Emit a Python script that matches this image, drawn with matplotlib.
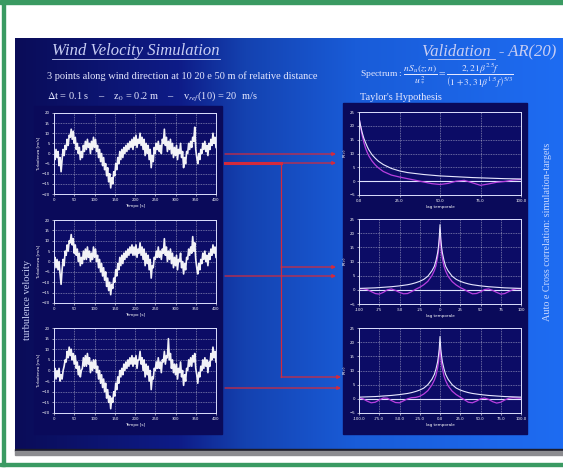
import numpy as np
import matplotlib
matplotlib.use("Agg")
import matplotlib.pyplot as plt
from matplotlib.patches import Rectangle
from matplotlib.colors import LinearSegmentedColormap

plt.rcParams['mathtext.fontset'] = 'stix'

W, H = 563, 470

# turbulence velocity [m/s] at the 3 points, one reading every 2.5 s (0..400 s)
turb_1 = [
    0, -3, 2, -2, 1, -6, -2, -9, -3, 2, -1, 4, 2, 7, 4, 9, 8, 12, 7, 11,
    5, 8, 2, 5, 0, 3, -3, 1, -2, 4, 1, 6, 2, 7, 3, 5, 0, 6, 2, 8,
    3, 7, 1, 4, -2, 2, -4, 0, -6, -2, -8, -5, -11, -7, -14, -10, -17, -12, -15, -9,
    -11, -5, -8, -2, -5, 1, -3, 2, -2, 3, 0, 4, 1, 5, 2, 6, 3, 7, 2, 8,
    4, 9, 3, 7, 5, 10, 4, 8, 2, 7, -1, 5, 0, 4, -3, 2, -7, -1, -4, 3,
    0, 5, 2, 6, 1, 4, 0, 7, 5, 12, 4, 8, 1, 6, 2, 7, 0, 5, -2, 3,
    -1, 4, -3, 2, 0, 5, -2, 1, -7, -2, -5, 1, 0, 5, 2, 6, 3, 8, 6, 13,
    2, -2, -5, 0, -3, 2, 0, 5, 2, 6, 1, 4, -1, 5, 2, 7, 4, 10, 5, 8,
    3]
turb_2 = [
    -1, 2, -3, 1, -4, 0, -6, -11, -4, 1, -2, 5, 3, 8, 5, 10, 9, 13, 8, 11,
    4, 8, 3, 6, 0, 4, -2, 2, -1, 5, 1, 6, 1, 7, 2, 5, 0, 4, 1, 7,
    2, 6, 0, 3, -3, 1, -5, -1, -7, -3, -9, -5, -12, -8, -14, -10, -16, -11, -13, -8,
    -10, -4, -7, -1, -4, 2, -2, 3, -1, 4, 1, 5, 2, 6, 3, 7, 4, 8, 3, 7,
    3, 8, 2, 6, 4, 9, 3, 7, 1, 6, -2, 4, -1, 3, -4, 1, -8, -2, -3, 2,
    1, 5, 2, 7, 2, 5, 1, 6, 4, 11, 3, 7, 0, 5, 1, 6, -1, 4, -3, 2,
    -2, 3, -4, 1, 0, 4, -3, 0, -6, -1, -4, 2, 1, 6, 3, 7, 4, 12, 5, 9,
    1, -3, -6, -1, -4, 1, -1, 4, 1, 5, 0, 3, -2, 4, 1, 6, 3, 8, 4, 7,
    2]
turb_3 = [
    -2, 1, -4, 0, -3, 1, -5, -2, -4, 0, 2, 5, 4, 9, 6, 11, 7, 10, 5, 8,
    3, 7, 1, 4, -2, 2, -3, 0, 1, 6, 2, 7, 2, 8, 3, 6, -1, 4, 0, 5,
    1, 5, -1, 2, -4, 0, -6, -2, -8, -4, -10, -6, -13, -9, -15, -12, -18, -13, -15, -10,
    -12, -6, -9, -3, -6, 0, -3, 1, -2, 3, 0, 4, 1, 5, 2, 6, 3, 7, 2, 6,
    3, 7, 1, 5, 5, 9, 3, 6, 0, 5, -3, 3, -2, 2, -5, 0, -9, -3, -4, 1,
    0, 4, 1, 6, 1, 4, -1, 5, 4, 9, 3, 7, 6, 15, 5, 8, 1, 5, -1, 3,
    -2, 3, -4, 1, -1, 4, -3, 0, -7, -2, -5, 1, 0, 5, 2, 6, 2, 7, 4, 8,
    1, -2, -6, -1, -3, 2, 0, 5, 1, 6, 2, 5, -1, 4, 2, 8, 5, 11, 6, 9,
    4]
t_sec = np.linspace(0, 400, len(turb_1))

# auto-correlation (lag 0..100)
auto_lag_target = [0, 1, 2, 3, 4, 5, 6, 8, 10, 12, 15, 20, 25, 30, 40, 50, 60, 70, 80, 90, 100]
auto_target = [23, 20, 17.5, 15.5, 14, 12.6, 11.4, 9.6, 8.3, 7.2, 6.0, 4.6, 3.7, 3.1, 2.4,
               1.9, 1.6, 1.3, 1.1, 0.9, 0.8]
auto_lag_sim = [0, 1, 2, 3, 4, 5, 6, 8, 10, 12, 15, 20, 25, 30, 35, 40, 45, 50, 55, 60,
                65, 70, 75, 80, 85, 90, 95, 100]
auto_sim = [23, 19.5, 16.5, 14, 12, 10.5, 9.2, 7.3, 5.9, 4.8, 3.5, 2.2, 1.5, 0.9, 0.3, -0.3,
            -0.9, -1.2, -0.8, 0.0, 0.3, -0.6, -1.5, -1.0, -0.4, -0.1, 0.4, 0.6]

# cross-correlations (lag -100..100)
cross_lag = [-100, -95, -90, -85, -80, -75, -70, -65, -60, -55, -50, -45, -40, -35, -30, -25,
             -20, -15, -10, -7, -5, -3, -2, -1, 0, 1, 2, 3, 5, 7, 10, 15, 20, 25, 30, 35,
             40, 45, 50, 55, 60, 65, 70, 75, 80, 85, 90, 95, 100]
cross_a_target = [0.5, 0.55, 0.6, 0.65, 0.7, 0.8, 0.9, 1.0, 1.1, 1.25, 1.4, 1.6, 1.8, 2.1, 2.5,
                  3.0, 3.7, 4.8, 6.7, 8.3, 10.3, 13, 15, 18, 23, 18, 15, 13, 10.3, 8.3, 6.7,
                  4.8, 3.7, 3.0, 2.5, 2.1, 1.8, 1.6, 1.4, 1.25, 1.1, 1.0, 0.9, 0.8, 0.7,
                  0.65, 0.6, 0.55, 0.5]
cross_a_sim = [0.3, 0.4, 0.1, -0.6, -1.3, -1.5, -0.9, 0.0, 0.3, -0.2, -0.9, -1.4, -1.3, -0.6,
               0.2, 0.9, 1.8, 3.0, 5.0, 6.8, 8.5, 11.5, 13.5, 16.5, 21.5, 16, 13, 11, 8.3,
               6.6, 4.8, 2.9, 1.7, 0.8, 0.1, -0.7, -1.4, -1.3, -0.7, 0.1, 0.3, -0.2, -0.9,
               -1.5, -1.3, -0.6, 0.1, 0.4, 0.3]
cross_b_target = [0.6, 0.65, 0.7, 0.75, 0.8, 0.9, 1.0, 1.1, 1.2, 1.35, 1.5, 1.7, 1.9, 2.2, 2.6,
                  3.1, 3.8, 5.0, 6.9, 8.6, 10.5, 13, 15, 17.5, 22, 17.5, 15, 13, 10.5, 8.6,
                  6.9, 5.0, 3.8, 3.1, 2.6, 2.2, 1.9, 1.7, 1.5, 1.35, 1.2, 1.1, 1.0, 0.9, 0.8,
                  0.75, 0.7, 0.65, 0.6]
cross_b_sim = [0.4, 0.0, -0.8, -1.4, -1.2, -0.4, 0.3, 0.2, -0.6, -1.3, -1.4, -0.7, 0.0, 0.4,
               0.5, 0.9, 1.7, 2.9, 4.9, 6.6, 8.2, 10.8, 12.6, 15.2, 19.5, 15, 12.4, 10.6, 8.0,
               6.4, 4.6, 2.7, 1.5, 0.6, -0.3, -1.2, -1.4, -0.8, 0.0, 0.3, -0.2, -1.0, -1.5,
               -1.2, -0.4, 0.2, 0.4, 0.3, 0.2]

ts_ticks = [0, 50, 100, 150, 200, 250, 300, 350, 400]
ts_yticks = [-20, -15, -10, -5, 0, 5, 10, 15, 20]
corr_yticks = [-5, 0, 5, 10, 15, 20, 25]
auto_xticks = [0, 25, 50, 75, 100]
auto_xlabels = ['0.0', '25.0', '50.0', '75.0', '100.0']
cross_xticks = [-100, -75, -50, -25, 0, 25, 50, 75, 100]
cross_a_xlabels = ['-100', '-75', '-50', '-25', '0', '25', '50', '75', '100']
cross_b_xlabels = ['-100.0', '-75.0', '-50.0', '-25.0', '0.0', '25.0', '50.0', '75.0', '100.0']

fig = plt.figure(figsize=(W / 100, H / 100), dpi=100, facecolor='white')

# background layer in pixel coordinates
bg = fig.add_axes([0, 0, 1, 1])
bg.set_xlim(0, W)
bg.set_ylim(H, 0)
bg.axis('off')

green = '#3a9a62'
bg.add_patch(Rectangle((0, 0), W, 4, color=green))
bg.add_patch(Rectangle((2, 0), 3, 466, color=green))
bg.add_patch(Rectangle((0, 463), W, 3, color=green))

slide_cmap = LinearSegmentedColormap.from_list(
    'slide', [(0, '#0a0c58'), (0.3, '#0e1c88'), (0.42, '#1442b0'), (0.62, '#195cd8'), (1, '#1e6cf2')])
bg.imshow(np.linspace(0, 1, 256).reshape(1, -1), cmap=slide_cmap, aspect='auto',
          extent=(15, W, 449, 38), zorder=1)
bg.add_patch(Rectangle((15, 449), W - 15, 2, color='#1c1c2a', zorder=2))
bg.add_patch(Rectangle((15, 451), W - 15, 4, color='#8c8c90', zorder=2))

panel = '#0a0a5a'
bg.add_patch(Rectangle((34, 106), 188, 328, color=panel, zorder=2))
bg.add_patch(Rectangle((343, 103), 184, 331, color=panel, zorder=2))

title_c = '#c8cef4'
text_c = '#e6e8ff'
serif = 'Liberation Serif'
bg.text(52, 51, 'Wind Velocity Simulation', fontsize=12, family=serif, style='italic',
        color=title_c, va='center', zorder=3)
bg.plot([52, 220], [59, 59], color=title_c, lw=0.6, zorder=3)
bg.text(556, 51, 'Validation  - AR(20)', fontsize=12, family=serif, style='italic',
        color=title_c, va='center', ha='right', zorder=3)
bg.plot([428, 495], [59, 59], color=title_c, lw=0.6, zorder=3)
bg.text(47, 76, '3 points along wind direction at 10 20 e 50 m of relative distance',
        fontsize=7.5, family=serif, color=text_c, va='center', zorder=3)
bg.text(47, 96, r'$\Delta$t = 0.1 s    –    z$_0$ = 0.2 m    –    v$_{ref}$(10) = 20  m/s',
        fontsize=7.5, family=serif, color=text_c, va='center', zorder=3)
bg.text(360, 76, r'Spectrum : $\dfrac{nS_u(z;n)}{u_*^2}=\dfrac{2,21\beta^{2.5}f}{\left(1+3,31\beta^{1.5}f\right)^{5/3}}$',
        fontsize=6.8, family=serif, color=text_c, va='center', zorder=3)
bg.text(360, 98, "Taylor's Hypothesis", fontsize=7.5, family=serif, color=text_c,
        va='center', zorder=3)
bg.text(28, 300, 'turbulence velocity', fontsize=7.5, family=serif, color=title_c,
        rotation=90, ha='center', va='center', zorder=3)
bg.text(548, 232, 'Auto e Cross correlation: simulation-targets', fontsize=7.3, family=serif,
        color='#c8d8ff', rotation=90, ha='center', va='center', zorder=3)

# red connection arrows
red = '#d42a3c'
def arrow(x0, x1, y):
    bg.annotate('', xy=(x1, y), xytext=(x0, y), zorder=4,
                arrowprops=dict(arrowstyle='-|>', color=red, lw=0.9, mutation_scale=5,
                                shrinkA=0, shrinkB=0))

arrow(225, 336, 154)
arrow(225, 336, 163)
bg.plot([225, 281], [163, 163], color=red, lw=2.2, zorder=4)
bg.plot([281, 281], [163, 377], color=red, lw=0.9, zorder=4)
arrow(281, 336, 267)
arrow(225, 336, 276)
arrow(281, 341, 377)
arrow(225, 341, 388)


def px_axes(x0, y0, x1, y1):
    return fig.add_axes([x0 / W, 1 - y1 / H, (x1 - x0) / W, (y1 - y0) / H])


def style(ax, xlabel, ylabel):
    ax.set_facecolor('#0c0c66')
    for s in ax.spines.values():
        s.set_color('#dcdfff')
        s.set_linewidth(0.7)
    ax.grid(True, color='white', linestyle=(0, (1.5, 1.5)), linewidth=0.4, alpha=0.75)
    ax.tick_params(colors='white', labelsize=2.8, length=1.5, width=0.4, pad=1.5)
    ax.set_xlabel(xlabel, fontsize=3, color='white', labelpad=1.5)
    ax.set_ylabel(ylabel, fontsize=3, color='white', labelpad=1)


# left column: simulated turbulence
for (y0, y1), series in zip([(113, 194), (220, 303), (328, 413)], [turb_1, turb_2, turb_3]):
    ax = px_axes(54, y0, 216, y1)
    style(ax, 'Tempo [s]', 'Turbolenza [m/s]')
    ax.plot(t_sec, series, color='white', lw=1.2, alpha=0.95)
    ax.set_xlim(0, 400)
    ax.set_ylim(-20, 20)
    ax.set_xticks(ts_ticks)
    ax.set_yticks(ts_yticks)

# right column: correlations
magenta = '#b840e0'
ax = px_axes(359, 112, 521, 195)
style(ax, 'lag temporale', r'R($\tau$)')
ax.axhline(0, color='#e0e4ff', lw=0.8)
ax.plot(auto_lag_sim, auto_sim, color=magenta, lw=0.9)
ax.plot(auto_lag_target, auto_target, color='#e8e8ff', lw=0.8)
ax.set_xlim(0, 100)
ax.set_ylim(-5, 25)
ax.set_xticks(auto_xticks)
ax.set_xticklabels(auto_xlabels)
ax.set_yticks(corr_yticks)

for (y0, y1), target, sim, labels in [((219, 304), cross_a_target, cross_a_sim, cross_a_xlabels),
                                      ((328, 413), cross_b_target, cross_b_sim, cross_b_xlabels)]:
    ax = px_axes(359, y0, 521, y1)
    style(ax, 'lag temporale', r'R($\tau$)')
    ax.axhline(0, color='#e0e4ff', lw=0.8)
    ax.plot(cross_lag, sim, color=magenta, lw=0.9)
    ax.plot(cross_lag, target, color='#e8e8ff', lw=0.8)
    ax.set_xlim(-100, 100)
    ax.set_ylim(-5, 25)
    ax.set_xticks(cross_xticks)
    ax.set_xticklabels(labels)
    ax.set_yticks(corr_yticks)

fig.savefig('out.png', dpi=100, facecolor='white')
